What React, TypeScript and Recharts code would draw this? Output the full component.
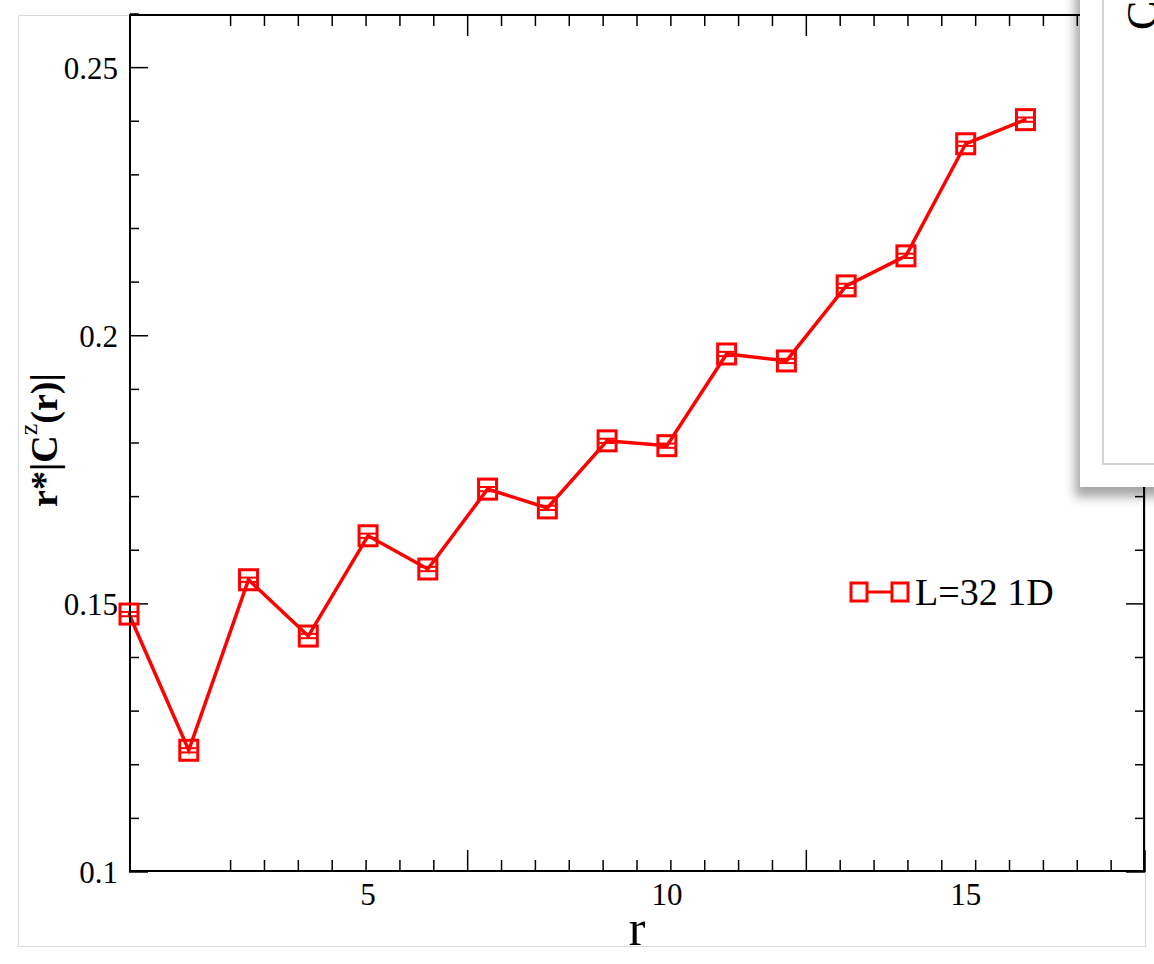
import React from 'react';
import { LineChart, Line, XAxis, YAxis, ErrorBar, Legend } from 'recharts';

const rValues = [1, 2, 3, 4, 5, 6, 7, 8, 9, 10, 11, 12, 13, 14, 15, 16];
const corrValues = [
  0.1481, 0.1227, 0.1545, 0.144, 0.1627, 0.1565, 0.1714, 0.1679,
  0.1804, 0.1795, 0.1966, 0.1953, 0.2093, 0.2149, 0.2358, 0.2403,
];
const errValues = [
  0.0004, 0.0004, 0.0004, 0.0004, 0.0004, 0.0004, 0.0004, 0.0004,
  0.0004, 0.0004, 0.0004, 0.0004, 0.0004, 0.0004, 0.0004, 0.0004,
];
const seriesName = 'L=32 1D';

const xDomain = [1, 18];
const yDomain = [0.1, 0.26];
const xMajorTicks = [5, 10, 15];
const xMinorTicks = [
  1.5, 2, 2.5, 3, 3.5, 4, 4.5, 5.5, 6, 6.5, 7, 7.5, 8, 8.5, 9, 9.5,
  10.5, 11, 11.5, 12, 12.5, 13, 13.5, 14, 14.5, 15.5, 16, 16.5, 17, 17.5,
];
const yMajorTicks = [0.1, 0.15, 0.2, 0.25];
const yMinorTicks = [
  0.11, 0.12, 0.13, 0.14, 0.16, 0.17, 0.18, 0.19, 0.21, 0.22, 0.23, 0.24, 0.26,
];

const data = rValues.map((r, i) => ({ r, v: corrValues[i], e: errValues[i] }));

const RED = '#ff0000';
const FONT = '"Liberation Serif", "Times New Roman", serif';
const tickStyle = { fontSize: 31, fill: '#000', fontFamily: FONT };
const blank = () => <g />;

const SquareDot = (props: any) => {
  const { cx, cy, index } = props;
  if (cx == null || cy == null) return <g key={`d-${index}`} />;
  return (
    <rect
      key={`d-${index}`}
      x={cx - 9}
      y={cy - 10}
      width={18}
      height={20}
      fill="none"
      stroke={RED}
      strokeWidth={3}
    />
  );
};

const YLabel = (props: any) => {
  const vb = props.viewBox || {};
  const x = vb.x - 15;
  const y = vb.y + vb.height / 2 - 3;
  return (
    <text
      x={x}
      y={y}
      transform={`rotate(-90 ${x} ${y})`}
      textAnchor="middle"
      dominantBaseline="central"
      fontFamily={FONT}
      fontWeight="bold"
      fontSize={38}
      fill="#000"
    >
      r*|C
      <tspan dy={-16} fontSize={26} fontWeight="normal">z</tspan>
      <tspan dy={16}>(r)|</tspan>
    </text>
  );
};

const XLabel = (props: any) => {
  const vb = props.viewBox || {};
  return (
    <text
      x={vb.x + vb.width / 2}
      y={vb.y + 73}
      textAnchor="middle"
      fontFamily={FONT}
      fontSize={50}
      fill="#000"
    >
      r
    </text>
  );
};

const LegendContent = () => (
  <div
    style={{
      display: 'flex',
      alignItems: 'center',
      fontFamily: FONT,
      fontSize: 38,
      color: '#000',
      whiteSpace: 'nowrap',
      lineHeight: '44px',
    }}
  >
    <svg width={64} height={24} style={{ display: 'block' }}>
      <line x1={19} y1={12} x2={45} y2={12} stroke={RED} strokeWidth={3} />
      <rect x={3} y={3} width={16} height={18} fill="none" stroke={RED} strokeWidth={3} />
      <rect x={44} y={3} width={16} height={18} fill="none" stroke={RED} strokeWidth={3} />
    </svg>
    <span style={{ marginLeft: 3 }}>{seriesName}</span>
  </div>
);

export default function App() {
  const axisLineStyle = { stroke: '#000', strokeWidth: 2 };
  const tickLineStyle = { stroke: '#000', strokeWidth: 1.5 };
  return (
    <div
      style={{
        position: 'absolute',
        left: 0,
        top: 0,
        width: 1154,
        height: 964,
        overflow: 'hidden',
        background: '#fff',
      }}
    >
      {/* window frame */}
      <div
        style={{
          position: 'absolute',
          left: 18,
          top: 15,
          width: 1128,
          height: 932,
          border: '1.5px solid #d9d9d9',
          boxSizing: 'border-box',
        }}
      />
      <div style={{ position: 'absolute', left: 0, top: 0 }}>
        <LineChart
          width={1154}
          height={964}
          data={data}
          margin={{ top: 14, right: 9, bottom: 32, left: 59 }}
        >
          {/* labelled axes */}
          <XAxis
            xAxisId="main"
            dataKey="r"
            type="number"
            domain={xDomain}
            ticks={xMajorTicks}
            interval={0}
            orientation="bottom"
            height={60}
            axisLine={false}
            tickLine={false}
            tickSize={0}
            tickMargin={11}
            tick={tickStyle}
            label={(p: any) => <XLabel {...p} />}
          />
          <YAxis
            yAxisId="main"
            type="number"
            domain={yDomain}
            ticks={yMajorTicks}
            interval={0}
            orientation="left"
            width={70}
            axisLine={false}
            tickLine={false}
            tickSize={0}
            tickMargin={11}
            tick={tickStyle}
            label={(p: any) => <YLabel {...p} />}
          />
          {/* bottom frame ticks */}
          <XAxis xAxisId="bMin" type="number" domain={xDomain} allowDataOverflow ticks={xMinorTicks} interval={0}
            orientation="bottom" mirror height={1} tickSize={11} tick={blank} axisLine={axisLineStyle} tickLine={tickLineStyle} />
          <XAxis xAxisId="bMaj" type="number" domain={xDomain} allowDataOverflow ticks={xMajorTicks} interval={0}
            orientation="bottom" mirror height={1} tickSize={22} tick={blank} axisLine={false} tickLine={tickLineStyle} />
          {/* top frame ticks */}
          <XAxis xAxisId="tMin" type="number" domain={xDomain} allowDataOverflow ticks={xMinorTicks} interval={0}
            orientation="top" mirror height={1} tickSize={11} tick={blank} axisLine={axisLineStyle} tickLine={tickLineStyle} />
          <XAxis xAxisId="tMaj" type="number" domain={xDomain} allowDataOverflow ticks={xMajorTicks} interval={0}
            orientation="top" mirror height={1} tickSize={22} tick={blank} axisLine={false} tickLine={tickLineStyle} />
          {/* left frame ticks */}
          <YAxis yAxisId="lMin" type="number" domain={yDomain} allowDataOverflow ticks={yMinorTicks} interval={0}
            orientation="left" mirror width={1} tickSize={9} tick={blank} axisLine={axisLineStyle} tickLine={tickLineStyle} />
          <YAxis yAxisId="lMaj" type="number" domain={yDomain} allowDataOverflow ticks={yMajorTicks} interval={0}
            orientation="left" mirror width={1} tickSize={19} tick={blank} axisLine={false} tickLine={tickLineStyle} />
          {/* right frame ticks */}
          <YAxis yAxisId="rMin" type="number" domain={yDomain} allowDataOverflow ticks={yMinorTicks} interval={0}
            orientation="right" mirror width={1} tickSize={9} tick={blank} axisLine={axisLineStyle} tickLine={tickLineStyle} />
          <YAxis yAxisId="rMaj" type="number" domain={yDomain} allowDataOverflow ticks={yMajorTicks} interval={0}
            orientation="right" mirror width={1} tickSize={19} tick={blank} axisLine={false} tickLine={tickLineStyle} />

          <Legend
            layout="horizontal"
            verticalAlign="middle"
            align="center"
            content={() => <LegendContent />}
            wrapperStyle={{ left: 848, top: 570, width: 'auto', right: 'auto', bottom: 'auto' }}
          />

          <Line
            xAxisId="main"
            yAxisId="main"
            dataKey="v"
            name={seriesName}
            stroke={RED}
            strokeWidth={3.5}
            dot={(p: any) => <SquareDot {...p} />}
            activeDot={false}
            isAnimationActive={false}
          >
            <ErrorBar dataKey="e" direction="y" width={8} stroke={RED} strokeWidth={2} isAnimationActive={false} />
          </Line>
        </LineChart>
      </div>
      {/* overlapping inset window at top right */}
      <div
        style={{
          position: 'absolute',
          left: 1080,
          top: -20,
          width: 120,
          height: 507,
          background: '#fff',
          boxShadow: '-5px 10px 10px rgba(0,0,0,0.35)',
        }}
      >
        <div
          style={{
            position: 'absolute',
            left: 22,
            top: 0,
            width: 120,
            height: 485,
            borderLeft: '2px solid #d4d4d4',
            borderBottom: '2px solid #d4d4d4',
            boxSizing: 'border-box',
          }}
        />
        <svg width={120} height={80} style={{ position: 'absolute', left: 0, top: 0 }}>
          <text
            x={62}
            y={50}
            transform="rotate(-90 62 50)"
            fontFamily={FONT}
            fontSize={44}
            fill="#000"
            dominantBaseline="central"
          >
            C
          </text>
        </svg>
      </div>
    </div>
  );
}
